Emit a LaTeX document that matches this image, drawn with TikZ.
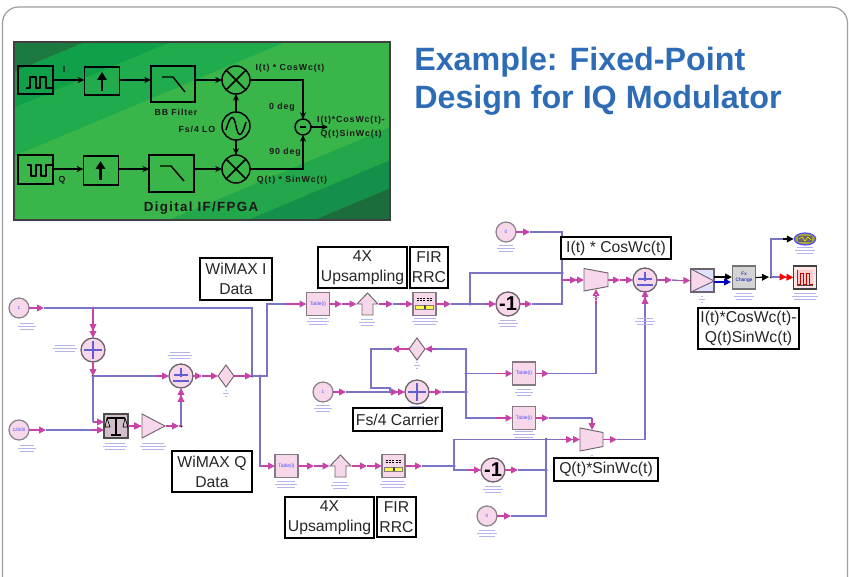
\documentclass[tikz,border=0pt]{standalone}
\usepackage{fontspec}
\setmainfont{Liberation Sans}
\newfontfamily\gfont[LetterSpace=10]{Liberation Sans}
\usetikzlibrary{arrows.meta,shapes.geometric}
\definecolor{pinkfill}{HTML}{F6D8EA}
\definecolor{pinkline}{HTML}{C644A8}
\definecolor{wireblue}{HTML}{7A74C6}
\definecolor{capblue}{HTML}{B4B4EE}
\definecolor{edge}{HTML}{6E626E}
\definecolor{titleblue}{HTML}{2E6DB6}
\definecolor{gA}{HTML}{1C7A40}
\definecolor{gB}{HTML}{10A04A}
\definecolor{gC}{HTML}{20AC4C}
\definecolor{gD}{HTML}{3AB54A}
\definecolor{gE}{HTML}{22A84A}
\definecolor{gF}{HTML}{14904A}
\definecolor{gG}{HTML}{1B6E3C}
\tikzset{
 x=0.75pt,y=-0.75pt,
 hit/.style={inner sep=0,outer sep=0,rectangle,minimum width=#1*0.75pt,minimum height=#1*0.75pt},
 wire/.style={draw=wireblue,line width=1.1pt},
 pw/.style={draw=pinkline,line width=.9pt},
 pa/.style={pw,-{Triangle[length=5.2pt,width=5pt]}},
 pb/.style={pw,-{Triangle[length=5.2pt,width=5pt]Triangle[length=5.2pt,width=5pt]}},
 srcnode/.style={circle,draw=edge!80,line width=.9pt,fill=pinkfill,minimum size=15pt,inner sep=0,outer sep=0,text=blue!70!white,font=\fontsize{3.5}{4}\selectfont},
 addnode/.style={circle,draw=edge,line width=1pt,fill=pinkfill,minimum size=18pt,inner sep=0,outer sep=0},
 negnode/.style={addnode,text=black,font=\fontsize{15}{15}\selectfont\bfseries},
 tablenode/.style={rectangle,draw=edge!85,line width=1.2pt,fill=pinkfill,minimum size=17.3pt,inner sep=0,outer sep=0,text=blue!70!white,font=\fontsize{3.7}{4}\selectfont},
 lbl/.style={rectangle,draw=black,line width=1.5pt,fill=white,inner sep=0,outer sep=0,align=center,text=black!85,font=\fontsize{11.8}{15}\selectfont},
 gbox/.style={rectangle,draw=black,line width=1.1pt,inner sep=0,outer sep=0},
 gcirc/.style={circle,draw=black,line width=1.1pt,inner sep=0,outer sep=0},
 gw/.style={draw=black,line width=1.1pt,-{Stealth[length=5pt,width=4.5pt]}},
 gl/.style={draw=black,line width=1.1pt},
 gtxt/.style={inner sep=0,text=black!90,font=\gfont\fontsize{6.6}{8}\selectfont\bfseries},
 blockpoly/.style={draw=edge,line width=.7pt,fill=pinkfill},
 icon/.style={draw=wireblue!80!blue,line width=.8pt},
 captionline/.style={draw=capblue,line width=.4pt},
 dot/.style={fill=black}
}
\newcommand\cn[3]{\coordinate (#1) at (#2,#3);}
\newcommand\jn[3]{\coordinate (#1) at (#2,#3);\fill[dot] (#2,#3) circle[radius=1.5];}
\newcommand\capt[3]{\draw[captionline] (#1-#3/2,#2)--(#1+#3/2,#2) (#1-#3/2-2,#2+3)--(#1+#3/2+2,#2+3) (#1-#3/2,#2+6)--(#1+#3/2,#2+6);}
\newcommand\pluss[2]{\draw[icon] (#1-9,#2)--(#1+9,#2) (#1,#2-9)--(#1,#2+9);}
\newcommand\plusminus[2]{\draw[icon] (#1-7,#2-1)--(#1+7,#2-1) (#1,#2-8)--(#1,#2+1) (#1-8,#2+5)--(#1+8,#2+5);}
\newcommand\diam[3]{\node[hit=16] (#1) at (#2,#3) {};\draw[blockpoly] (#2-8,#3)--(#2,#3-11)--(#2+8,#3)--(#2,#3+11)--cycle;}
\newcommand\uparr[3]{\node[hit=22] (#1) at (#2,#3) {};\draw[blockpoly] (#2-10.5,#3)--(#2,#3-11)--(#2+10.5,#3)--(#2+5.5,#3)--(#2+5.5,#3+11)--(#2-5.5,#3+11)--(#2-5.5,#3)--cycle;}
\newcommand\firbox[3]{\node[tablenode] (#1) at (#2,#3) {};
 \draw[black,line width=.5pt,dash pattern=on 1.5pt off 1pt] (#2-8,#3-6)--(#2+8,#3-6) (#2-8,#3-3.5)--(#2+8,#3-3.5);
 \fill[yellow!70!white] (#2-9,#3+1) rectangle (#2+9,#3+5);\draw[gray,line width=.4pt] (#2-9,#3+1) rectangle (#2+9,#3+5);
 \fill[black!70] (#2-1,#3+1) rectangle (#2+1,#3+5);}
\begin{document}
\begin{tikzpicture}
\useasboundingbox (0,0) rectangle (849,577);
\fill[white] (0,0) rectangle (849,577);
% slide frame
\begin{scope}
\clip (0,0) rectangle (849,577);
\draw[black!38,line width=.9pt,rounded corners=12pt] (2.5,600)--(2.5,7)--(847.5,7)--(847.5,600);
\end{scope}
% green panel
\begin{scope}
\clip (14,42) rectangle (390,220);
\fill[gD] (14,42) rectangle (390,220);
\foreach \ca/\cb/\co in {-200/72/gA,72/108/gB,108/156/gC,285/318/gE,318/346/gF,346/600/gG}{
 \fill[\co] (14,\ca)--(400,\ca-162)--(400,\cb-162)--(14,\cb)--cycle;}
\end{scope}
\node[rectangle,draw=black!75,line width=.8pt,minimum width=282pt,minimum height=133.5pt,inner sep=0] (panel) at (202,131) {};
\node[gbox,minimum width=26pt,minimum height=21pt] (gsi) at (35.5,80) {};
\node[gbox,minimum width=26.5pt,minimum height=21pt] (gu1) at (102,81) {};
\node[gbox,minimum width=33pt,minimum height=27pt] (gf1) at (173,84) {};
\node[gcirc,minimum size=21pt] (gm1) at (236,80) {};
\node[gcirc,minimum size=21pt] (glo) at (236,126) {};
\node[gcirc,minimum size=21pt] (gm2) at (236,169) {};
\node[gcirc,minimum size=12pt] (gs) at (303,127) {};
\node[gbox,minimum width=26pt,minimum height=21.5pt] (gsq) at (35.5,169.5) {};
\node[gbox,minimum width=26.5pt,minimum height=21.5pt] (gu2) at (101,170.5) {};
\node[gbox,minimum width=33.5pt,minimum height=27.5pt] (gf2) at (171.5,173.5) {};
\coordinate (gout) at (328,127);
\coordinate (gc1) at (303,80);
\coordinate (gc2) at (303,169);
% green panel wiring
\draw[gw] (gsi.east)--(gsi.east-|gu1.west);
\draw[gw] (gm1-|gu1.east)--(gm1-|gf1.west);
\draw[gw] (gm1-|gf1.east)--(gm1.west);
\draw[gw] (gm2-|gsq.east)--(gm2-|gu2.west);
\draw[gw] (gm2-|gu2.east)--(gm2-|gf2.west);
\draw[gw] (gm2-|gf2.east)--(gm2.west);
\draw[gw] (glo.north)--(gm1.south);
\draw[gw] (glo.south)--(gm2.north);
\draw[gw] (gm1.east)--(gc1)--(gs.north);
\draw[gw] (gm2.east)--(gc2)--(gs.south);
\draw[gw] (gs.east)--(gout);
% icons
\draw[gl,line join=round] (26,88)--(30,88)--(30,77)--(36,77)--(36,88)--(40,88)--(40,77)--(46,77)--(46,88)--(52,88);
\draw[gl,line join=round] (27,165)--(31,165)--(31,176)--(36,176)--(36,165)--(41,165)--(41,176)--(46,176)--(46,165)--(52,165);
\draw[draw=black,line width=1.6pt,-{Triangle[length=6pt,width=7pt]}] (102,91)--(102,72);
\draw[draw=black,line width=1.6pt,-{Triangle[length=6pt,width=7pt]}] (100.5,180)--(100.5,161);
\draw[gl] (162,77)--(173,77)--(185,92);
\draw[gl] (160,166)--(171,166)--(184,181);
\draw[gl] (226,70)--(246,90) (226,90)--(246,70);
\draw[gl] (226,159)--(246,179) (226,179)--(246,159);
\draw[gl] (226,130) .. controls (231,112) and (234,116) .. (236,126) .. controls (238,136) and (241,140) .. (246,122);
\draw[gl] (300,127)--(306,127);
\foreach \tx/\ty/\tt in {64/69/I,62/180/Q,176/112/BB Filter,290/68/{I(t) * CosWc(t)},282/107/0 deg,285/152/90 deg,292/180/{Q(t) * SinWc(t)},351/120/{I(t)*CosWc(t)-},351/134/{Q(t)SinWc(t)}}{
 \node[gtxt] at (\tx,\ty) {\tt};}
\node[gtxt] (glotxt) at (197,129) {Fs/4 LO};
\node[inner sep=0,text=black!90,font=\gfont\fontsize{10}{12}\selectfont\bfseries] (gtitle) at (201,208) {Digital IF/FPGA};
% title
\node[anchor=north west,inner sep=0,align=left,text=titleblue,font=\fontsize{24.2}{28.5}\selectfont\bfseries] (title) at (414,47) {Example: Fixed-Point\\Design for IQ Modulator};
%
% ---- blocks ----
\node[srcnode] (s1) at (19,308) {1};
\node[srcnode] (s3) at (19,430) {12500};
\node[addnode] (add1) at (93,350) {};
\node[addnode] (add2) at (181,376) {};
\diam{dia1}{226}{376}
\node[tablenode,draw=black!70,line width=1.3pt,fill=pinkfill!70!gray,minimum size=18pt] (bal) at (116,426) {};
\node[hit=24] (tri) at (153.5,426) {};
\node[tablenode] (tb1) at (318,304) {Table(i)};
\uparr{up1}{367.5}{304}
\firbox{fir1}{424.5}{304}
\node[negnode] (neg1) at (508,304) {-1};
\node[srcnode] (s0) at (506,232) {0};
\node[srcnode] (sc) at (323,392) {1};
\diam{dia2}{417}{349}
\node[addnode] (add4) at (417,392) {};
\node[tablenode] (tb2) at (524,373.5) {Table(i)};
\node[tablenode] (tb3) at (524,418) {Table(i)};
\node[hit=24] (mux1) at (596,280) {};
\node[hit=23] (mux2) at (591.5,439.5) {};
\node[addnode] (add3) at (645,280) {};
\node[rectangle,draw=edge,line width=1pt,fill=blue!12!white,minimum size=17.3pt,inner sep=0] (gb) at (702.5,280.5) {};
\node[tablenode,draw=black!55,fill=black!17,text=blue!70!black,align=center,font=\fontsize{3.6}{5}\selectfont] (fx) at (744,277.5) {Fx\\Change};
\node[ellipse,draw=blue!70!white,line width=.9pt,fill=yellow!60!black,minimum width=16pt,minimum height=9pt,inner sep=0] (scope) at (805,239) {};
\node[tablenode,draw=black!75,fill=red!10!white,minimum size=17.3pt] (spec) at (805,277.5) {};
\node[tablenode] (tb4) at (286.5,466) {Table(i)};
\uparr{up2}{340.5}{466}
\firbox{fir2}{393.5}{466}
\node[negnode] (neg2) at (493,470) {-1};
\node[srcnode] (s2) at (487,516) {0};
% ---- points ----
\cn{a1}{44}{308}\jn{j1}{93}{308}\cn{b1}{252}{308}
\jn{j2}{93}{376}\cn{a2}{155}{376}\cn{a3}{202}{376}\jn{j3}{252}{376}\jn{j4}{260}{376}
\cn{b2}{267}{376}\cn{a4}{285}{304}
\cn{a5}{342}{304}\cn{a6}{393}{304}\cn{a6b}{400}{304}\cn{a7}{451}{304}\jn{j5}{470}{304}\cn{a8}{485}{304}
\cn{a9}{532}{304}\cn{b3}{562}{304}\cn{b4}{562}{232}\cn{a10}{530}{232}\cn{b5}{470}{273}
\jn{j6}{562}{273}\jn{j7}{562}{280}\cn{a11}{620}{280}
\cn{a12}{672}{280}\cn{a13}{678}{280.5}
\cn{h1}{714}{277}\cn{h2}{732}{277}\cn{h3}{714}{282}\cn{h4}{731}{282}
\cn{a14}{769}{277}\jn{j8}{771}{277}\cn{b5b}{771}{239}\cn{b6}{783}{239}\cn{b7}{783}{277}
\cn{a15}{346}{392}\jn{j9}{390}{392}\cn{a16}{442}{392}\jn{j10}{466}{392}\jn{j11}{466}{373.5}
\cn{b8}{466}{349}\cn{a17}{436}{349}\cn{a18}{392}{349}\cn{b9}{371}{349}\cn{b10}{390}{388}\cn{b11}{466}{418}
\cn{a19}{496}{373.5}\cn{a20}{496}{418}\cn{a21}{549}{373.5}\cn{b12}{596}{373.5}\cn{b13}{596}{304}\cn{m1b}{596}{289}
\cn{a22}{549}{418}\cn{b14}{592}{418}\cn{m2t}{592}{430}
\cn{a23}{617}{439.5}\cn{b15}{645}{439.5}\cn{b16}{645}{304}\cn{a3s}{645}{290}
\cn{b17}{260}{466}\cn{a24}{262}{466}\cn{a25}{314}{466}\cn{a26}{367}{466}\cn{a27}{422}{466}\jn{j13}{454}{466}
\cn{b18}{454}{439.5}\jn{j14}{546}{439.5}\cn{a28}{560}{439.5}\cn{b19}{454}{470}\cn{a29}{468}{470}\cn{a30}{518}{470}\jn{j15}{546}{470}
\cn{b20}{546}{516}\cn{a31}{511}{516}
\cn{a32}{46}{430}\cn{b21}{92}{430}\cn{b22}{93}{422}\cn{a33}{141}{426}\cn{a34}{179}{426}\jn{j16}{181}{426}\cn{a35}{181}{402}
% ---- wires ----
\draw[pa] (s1.east)--(a1);\draw[wire] (a1)--(j1)--(b1)--(j3);
\draw[pb] (j1)--(add1.north);\draw[pa] (add1.south)--(j2);
\draw[wire] (j2)--(a2);\draw[pa] (a2)--(add2.west);
\draw[pa] (add2.east)--(a3);\draw[pa] (a3)--(dia1.west);
\draw[pa] (dia1.east)--(j3);\draw[wire] (j3)--(j4)--(b2)|-(a4);\draw[pa] (a4)--(tb1.west);
\draw[pa] (tb1.east)--(a5);\draw[pa] (a5)--(up1.west);
\draw[pa] (up1.east)--(a6);\draw[wire] (a6)--(a6b);\draw[pa] (a6b)--(fir1.west);
\draw[pa] (fir1.east)--(a7);\draw[wire] (a7)--(j5)--(a8);\draw[pa] (a8)--(neg1.west);
\draw[pa] (neg1.east)--(a9);\draw[wire] (a9)--(b3)--(b4)--(a10);\draw[pa] (s0.east)--(a10);
\draw[wire] (j5)--(b5)--(j6);
\draw[pb] (j7)--(mux1.west);\draw[pa] (mux1.east)--(a11);\draw[pa] (a11)--(add3.west);
\draw[pa] (add3.east)--(a12);\draw[wire] (a12)--(a13);\draw[pa] (a13)--(gb.west);
\draw[black,line width=.9pt,-{Triangle[length=5.2pt,width=5pt]}] (h1)--(h2);
\draw[blue!75!black,line width=.9pt,-{Triangle[length=5.2pt,width=5pt]}] (h3)--(h4);
\draw[black,line width=.9pt,-{Triangle[length=5.2pt,width=5pt]}] (fx.east)--(a14);
\draw[wire] (j8)--(b5b)--(b6);
\draw[black,line width=.9pt,-{Triangle[length=5.2pt,width=5pt]}] (b6)--(scope.west);
\draw[wire] (j8)--(b7);
\draw[red,line width=.9pt,-{Triangle[length=5.2pt,width=5pt]Triangle[length=5.2pt,width=5pt]}] (b7)--(spec.west);
\draw[pa] (sc.east)--(a15);\draw[wire] (a15)--(j9);\draw[pb] (j9)--(add4.west);
\draw[pa] (add4.east)--(a16);\draw[wire] (a16)--(j10)--(j11)--(b8)--(a17);\draw[pa] (a17)--(dia2.east);
\draw[pa] (dia2.west)--(a18);\draw[wire] (a18)--(b9)|-(b10)--(j9);
\draw[wire] (j10)--(b11)--(a20);\draw[pa] (a20)--(tb3.west);
\draw[wire] (j11)--(a19);\draw[pa] (a19)--(tb2.west);
\draw[pa] (tb2.east)--(a21);\draw[wire] (a21)--(b12)--(b13);\draw[pa] (b13)--(m1b);
\draw[pa] (tb3.east)--(a22);\draw[wire] (a22)--(b14);\draw[pa] (b14)--(m2t);
\draw[pa] (mux2.east)--(a23);\draw[wire] (a23)--(b15)--(b16);\draw[pb] (b16)--(a3s);
\draw[wire] (j4)--(b17)--(a24);\draw[pa] (a24)--(tb4.west);
\draw[pa] (tb4.east)--(a25);\draw[pa] (a25)--(up2.west);
\draw[pa] (up2.east)--(a26);\draw[pa] (a26)--(fir2.west);
\draw[pa] (fir2.east)--(a27);\draw[wire] (a27)--(j13)--(b18)--(j14)--(a28);\draw[pb] (a28)--(mux2.west);
\draw[wire] (j13)--(b19)--(a29);\draw[pa] (a29)--(neg2.west);
\draw[pa] (neg2.east)--(a30);\draw[wire] (a30)--(j15);\draw[wire] (j14)--(j15)--(b20)--(a31);\draw[pa] (s2.east)--(a31);
\draw[pa] (s3.east)--(a32);\draw[wire] (a32)--(b21);\draw[pa] (b21)--(bal.west|-b21);
\draw[wire] (j2)--(b22);\draw[pa] (b22)--(bal.west|-b22);
\draw[pa] (bal.east)--(a33);\draw[pa] (a33)--(tri.west);
\draw[pa] (tri.east)--(a34);\draw[wire] (j16)--(a35);\draw[pw] (a34)--(j16);\draw[pb] (a35)--(add2.south);
% ---- polygon blocks on top ----
\draw[blockpoly] (584,268.5)--(608,273)--(608,286.5)--(584,291)--cycle;
\draw[blockpoly] (580,428)--(603,432.5)--(603,446.5)--(580,451)--cycle;
\draw[blockpoly] (142,414)--(165,426)--(142,438)--cycle;
\draw[blockpoly] (691,269)--(714,281)--(691,292)--cycle;
% adder icons
\pluss{93}{350}\plusminus{181}{376}\plusminus{645}{280}\pluss{417}{392}
% balance icon
\draw[black,line width=1.5pt] (116,417)--(116,435) (111,435)--(121,435) (107,418)--(125,418);
\draw[black,line width=.5pt] (107,418)--(105,427)--(110,427)--(107,418) (125,418)--(123,427)--(128,427)--(125,418);
% spectrum icon
\fill[red!20!white] (797,270) rectangle (813,285);
\draw[red!75!black,line width=.7pt] (797,284)--(800,284)--(800,273)--(803,273)--(803,284)--(806,284)--(806,273)--(809,273)--(809,284)--(813,284);
\draw[black!70,line width=.5pt] (797,270)--(797,285)--(813,285);
% scope inner
\fill[black!60] (798,236) rectangle (812,242);
\draw[yellow,line width=.4pt] (799,239)--(802,237)--(805,241)--(808,237)--(811,240);
% captions
\capt{27}{323}{14}\capt{27}{445}{14}\capt{65}{345}{20}\capt{180}{352}{20}\capt{226}{390}{2}\capt{115}{443}{20}
\capt{153}{443}{22}\capt{318}{318}{18}\capt{367}{319}{12}\capt{425}{318}{22}\capt{508}{320}{16}\capt{506}{245}{14}
\capt{323}{405}{14}\capt{417}{406}{14}\capt{417}{362}{2}\capt{524}{389}{14}\capt{524}{431}{18}\capt{596}{294}{2}
\capt{645}{318}{16}\capt{744}{293}{16}\capt{805}{247}{16}\capt{805}{293}{22}\capt{702}{296}{2}
\capt{286}{481}{18}\capt{340}{482}{14}\capt{393}{481}{22}\capt{493}{486}{16}\capt{487}{530}{16}\capt{592}{455}{2}
% labels
\node[lbl,minimum width=54pt,minimum height=31.5pt] (l1) at (236,279) {WiMAX I\\Data};
\node[lbl,minimum width=60pt,minimum height=31pt] (l2) at (212,471.5) {WiMAX Q\\Data};
\node[lbl,minimum width=66.5pt,minimum height=31pt] (l3) at (362.5,267.5) {4X\\Upsampling};
\node[lbl,minimum width=28.5pt,minimum height=31pt] (l4) at (429,267.5) {FIR\\RRC};
\node[lbl,minimum width=82.5pt,minimum height=16.5pt] (l5) at (616,248) {I(t) * CosWc(t)};
\node[lbl,minimum width=76pt,minimum height=31pt] (l6) at (748.5,328.5) {I(t)*CosWc(t)-\\Q(t)SinWc(t)};
\node[lbl,minimum width=66.5pt,minimum height=17.5pt] (l7) at (397.5,419.5) {Fs/4 Carrier};
\node[lbl,minimum width=78pt,minimum height=17.5pt] (l8) at (606,469.5) {Q(t)*SinWc(t)};
\node[lbl,minimum width=66.5pt,minimum height=31pt] (l9) at (329.5,517.5) {4X\\Upsampling};
\node[lbl,minimum width=29pt,minimum height=30pt] (l10) at (396.5,517) {FIR\\RRC};
\end{tikzpicture}
\end{document}
